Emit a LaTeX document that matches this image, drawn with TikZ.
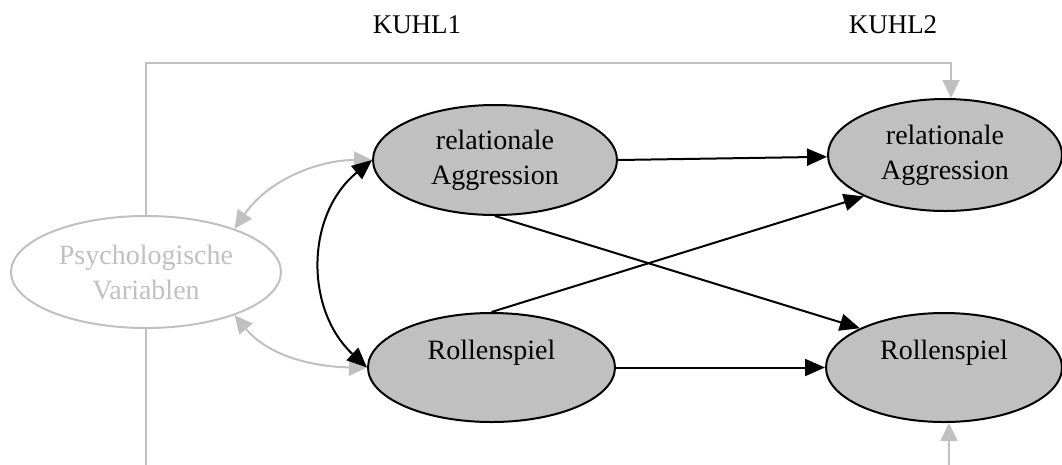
\documentclass[tikz,border=0pt]{standalone}
\usepackage{fontspec}
\setmainfont{Liberation Serif}
\usetikzlibrary{arrows.meta,shapes.geometric}
\definecolor{lgray}{HTML}{C0C0C0}
\tikzset{
  var/.style={ellipse,draw=black,line width=2pt,fill=lgray,inner sep=0pt,align=center,
    font=\fontsize{28}{35}\selectfont},
  psyvar/.style={ellipse,draw=lgray,line width=2pt,inner sep=0pt,align=center,text=lgray,
    font=\fontsize{28}{35}\selectfont},
  head/.style={font=\fontsize{27}{32}\selectfont,inner sep=0pt},
  blk/.style={draw=black,line width=2pt,-{Triangle[length=20pt,width=17pt]}},
  blkboth/.style={draw=black,line width=2pt,{Triangle[length=20pt,width=17pt]}-{Triangle[length=20pt,width=17pt]}},
  gry/.style={draw=lgray,line width=2pt,-{Triangle[length=18pt,width=17pt]}},
  gryboth/.style={draw=lgray,line width=2pt,{Triangle[length=18pt,width=17pt]}-{Triangle[length=18pt,width=17pt]}},
}
\begin{document}
\begin{tikzpicture}[x=1pt,y=-1pt]
\useasboundingbox (0,0) rectangle (1062,464);
\clip (0,0) rectangle (1062,464);

\node[head,anchor=base] (k1) at (417,33) {KUHL1};
\node[head,anchor=base] (k2) at (893,33) {KUHL2};

\node[psyvar,minimum width=270pt,minimum height=112pt] (psy) at (146,272) {Psychologische\\Variablen};
\node[var,minimum width=244pt,minimum height=110pt] (ra1) at (495,160) {relationale\\Aggression};
\node[var,minimum width=247pt,minimum height=109pt] (rs1) at (491.5,367.5) {Rollenspiel\\\mbox{}};
\node[var,minimum width=234pt,minimum height=112pt] (ra2) at (945,155) {relationale\\Aggression};
\node[var,minimum width=236pt,minimum height=109pt] (rs2) at (944,367.5) {Rollenspiel\\\mbox{}};

% gray connectors
\coordinate (tc) at (951,63);
\coordinate (bl) at (146,490);
\coordinate (br) at (949,490);
\draw[gry] (psy.north) |- (tc) -- (tc |- ra2.north);
\draw[gry] (psy.south) -- (bl) -- (br) -- (br |- rs2.south);
\draw[gryboth] (psy.26) .. controls (268,180) and (318,160) .. (ra1.west);
\draw[gryboth] (psy.-26) .. controls (270,358) and (318,367) .. (rs1.west);

% black connectors
\draw[blkboth] (ra1.west) .. controls (305,215) and (305,310) .. (rs1.west);
\draw[blk] (ra1.east) -- (ra2);
\draw[blk] (rs1.east) -- (rs2);
\draw[blk] (ra1.south) -- (rs2.155);
\draw[blk] (rs1.north) -- (ra2.207);
\end{tikzpicture}
\end{document}
